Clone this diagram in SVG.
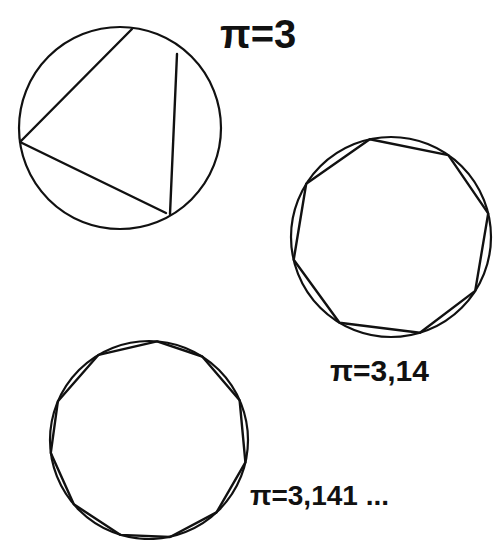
<svg xmlns="http://www.w3.org/2000/svg" width="498" height="540" viewBox="0 0 498 540">
<style>
.c{fill:none;stroke:#111;stroke-width:2.2}
.p{fill:none;stroke:#111;stroke-width:2.4;stroke-linejoin:round;stroke-linecap:round}
.t{font-family:"Liberation Sans",Arial,sans-serif;fill:#111;font-weight:bold}
</style>
<rect width="498" height="540" fill="#fff"/>
<g id="circle-n3">
<circle class="c" cx="120" cy="128" r="101"/>
<path class="p" d="M132,29 L20,142 L166,213 M177,54 L170,214"/>
</g>
<g id="circle-n8">
<circle class="c" cx="391" cy="237" r="100"/>
<polygon class="p" points="369.8,139.2 448.3,155.1 488.2,213.4 475.2,290.9 419.9,332.7 339.5,322.8 293.7,259.8 306.2,183.8"/>
</g>
<g id="circle-n12">
<circle class="c" cx="149" cy="440" r="99"/>
<polygon class="p" points="157,341.3 202.2,356.5 239.6,400.2 245.4,462.4 216.5,512.4 170,537 120.6,534.9 73.8,504.3 50.8,452.9 57.9,401.2 98.6,354.8"/>
</g>
<g id="labels">
<text class="t" x="220" y="48" font-size="40">π=3</text>
<text class="t" x="330" y="381" font-size="30">π=3,14</text>
<text class="t" x="250" y="505" font-size="28">π=3,141 ...</text>
</g>
</svg>
